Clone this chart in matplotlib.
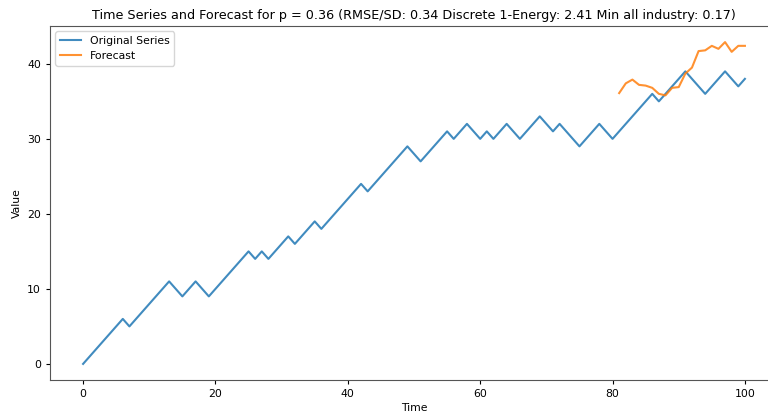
import numpy as np
import matplotlib
matplotlib.use("Agg")
import matplotlib.pyplot as plt

# original random-walk series, t = 0..100
series = [0, 1, 2, 3, 4, 5, 6, 5, 6, 7, 8, 9, 10, 11, 10, 9, 10, 11, 10, 9,
          10, 11, 12, 13, 14, 15, 14, 15, 14, 15, 16, 17, 16, 17, 18, 19, 18, 19, 20, 21,
          22, 23, 24, 23, 24, 25, 26, 27, 28, 29, 28, 27, 28, 29, 30, 31, 30, 31, 32, 31,
          30, 31, 30, 31, 32, 31, 30, 31, 32, 33, 32, 31, 32, 31, 30, 29, 30, 31, 32, 31,
          30, 31, 32, 33, 34, 35, 36, 35, 36, 37, 38, 39, 38, 37, 36, 37, 38, 39, 38, 37,
          38]

# forecast, t = 81..100
forecast_t = list(range(81, 101))
forecast = [36.1, 37.4, 37.9, 37.2, 37.1, 36.8, 36.0, 35.8, 36.8, 36.9,
            38.7, 39.5, 41.7, 41.8, 42.4, 42.0, 42.9, 41.6, 42.4, 42.4]

title = ("Time Series and Forecast for p = 0.36 (RMSE/SD: 0.34 "
         "Discrete 1-Energy: 2.41 Min all industry: 0.17)")

fig = plt.figure(figsize=(7.68, 4.16), dpi=100)
# the right edge of the axes runs just past the figure (cropped in the original)
ax = fig.add_axes([50 / 768, 1 - 380 / 416, 728 / 768, 354 / 416])

ax.plot(range(len(series)), series, color="#1f77b4", label="Original Series",
        lw=1.5, alpha=0.85)
ax.plot(forecast_t, forecast, color="#ff7f0e", label="Forecast", lw=1.5, alpha=0.85)

ax.set_title(title, fontsize=9.2, pad=5)
ax.set_xlabel("Time", fontsize=7.8, labelpad=3)
ax.set_ylabel("Value", fontsize=7.8, labelpad=4)
ax.tick_params(labelsize=7.8, length=3)
for s in ax.spines.values():
    s.set_color("#555555")
ax.spines["right"].set_visible(False)
ax.legend(loc="upper left", fontsize=7.8)

fig.savefig("out.png", dpi=100)
